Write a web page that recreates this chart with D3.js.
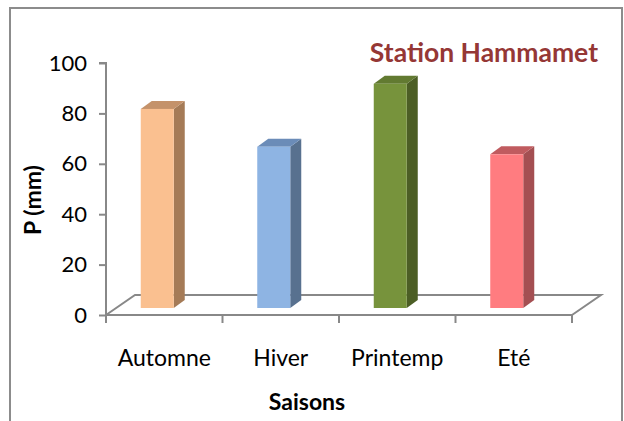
<!DOCTYPE html>
<html><head><meta charset="utf-8">
<script src="https://cdn.jsdelivr.net/npm/d3@7"></script>
<style>html,body{margin:0;padding:0;background:#fff;}svg{display:block;}</style>
</head><body>
<svg id="c" width="624" height="421"></svg>
<script>
const categories = ["Automne", "Hiver", "Printemp", "Eté"];
const values = [79, 64, 89, 61];
const yTicks = [0, 20, 40, 60, 80, 100];
const frontColors = ["#FAC090", "#8EB4E3", "#77933C", "#FF7C80"];
const sideColors = ["#A57B57", "#58718F", "#4C5E25", "#A44F52"];
const topColors = ["#C4926A", "#6B8CB8", "#627A31", "#C05B5F"];
const title = "Station Hammamet";
const xTitle = "Saisons";
const yTitle = "P (mm)";

const svg = d3.select("#c");
const FONT = "Lato, 'Open Sans', sans-serif";
const axisColor = "#888888";

// outer border
svg.append("path").attr("d", "M10,430 L10,8 L622,8 L622,430")
  .attr("fill", "none").attr("stroke", "#8c8c8c").attr("stroke-width", 2);

const x = d3.scaleBand().domain(categories).range([106, 572]).padding(0);
const y = d3.scaleLinear().domain([0, 100]).range([315, 63]);

// floor (3D depth)
const fdx = 29, fdy = -20;
const x0 = x.range()[0], x1 = x.range()[1], y0 = y(0);
svg.append("path")
  .attr("d", `M${x0},${y0} L${x0 + fdx},${y0 + fdy} L${x1 + fdx},${y0 + fdy} L${x1},${y0}`)
  .attr("fill", "none").attr("stroke", axisColor).attr("stroke-width", 2);

// y axis
const yAxis = d3.axisLeft(y).tickValues(yTicks).tickSize(7).tickPadding(12);
const gy = svg.append("g").attr("transform", `translate(${x0},0)`).call(yAxis);
gy.select(".domain").attr("stroke", axisColor).attr("stroke-width", 2)
  .attr("d", `M-7,${y(100)}H0V${y(0)}`);
gy.selectAll(".tick line").attr("stroke", axisColor).attr("stroke-width", 2);
gy.selectAll(".tick text").attr("font-family", FONT).attr("font-size", 22).attr("fill", "#000");

// x axis
const xAxis = d3.axisBottom(x).tickSize(0).tickPadding(35);
const gx = svg.append("g").attr("transform", `translate(0,${y0})`).call(xAxis);
gx.select(".domain").attr("stroke", axisColor).attr("stroke-width", 2).attr("d", `M${x0},0H${x1}`);
gx.selectAll(".tick text").attr("font-family", FONT).attr("font-size", 23).attr("fill", "#000")
  .attr("dy", "0.71em");
// category separator ticks
const sepPositions = categories.map(c => x(c)).concat([x1]);
gx.selectAll(".sep").data(sepPositions).join("line").attr("class", "sep")
  .attr("x1", d => d).attr("x2", d => d).attr("y1", 0).attr("y2", 8)
  .attr("stroke", axisColor).attr("stroke-width", 2);

// 3D bars
const bw = 33, bdx = 11, bdy = -8, shiftX = -7, shiftY = -7;
const bars = svg.append("g");
categories.forEach((c, i) => {
  const cx = x(c) + x.bandwidth() / 2 + shiftX;
  const L = cx - bw / 2, R = cx + bw / 2;
  const B = y(0) + shiftY, T = y(values[i]) + shiftY;
  bars.append("path").attr("d", `M${R},${B} L${R + bdx},${B + bdy} L${R + bdx},${T + bdy} L${R},${T} Z`)
    .attr("fill", sideColors[i]);
  bars.append("path").attr("d", `M${L},${T} L${L + bdx},${T + bdy} L${R + bdx},${T + bdy} L${R},${T} Z`)
    .attr("fill", topColors[i]);
  bars.append("rect").attr("x", L).attr("y", T).attr("width", bw).attr("height", B - T)
    .attr("fill", frontColors[i]);
});

// titles
svg.append("text").attr("x", 598).attr("y", 62).attr("text-anchor", "end")
  .attr("font-family", FONT).attr("font-weight", "bold").attr("font-size", 26.5)
  .attr("fill", "#953735").text(title);
svg.append("text").attr("x", 307).attr("y", 410).attr("text-anchor", "middle")
  .attr("font-family", FONT).attr("font-weight", "bold").attr("font-size", 23)
  .attr("fill", "#000").text(xTitle);
svg.append("text").attr("transform", "translate(41,200) rotate(-90)").attr("text-anchor", "middle")
  .attr("font-family", FONT).attr("font-weight", "bold").attr("font-size", 23)
  .attr("fill", "#000").text(yTitle);
</script>
</body></html>
